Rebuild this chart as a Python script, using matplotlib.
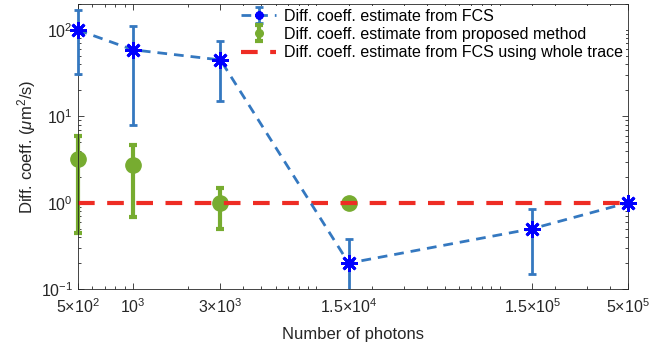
import matplotlib
matplotlib.use("Agg")
import matplotlib.pyplot as plt
import numpy as np
from matplotlib.patches import Rectangle
from matplotlib.ticker import FixedLocator, FixedFormatter, LogLocator, NullFormatter

plt.rcParams['font.family'] = ['Liberation Sans', 'DejaVu Sans']
plt.rcParams['mathtext.fontset'] = 'custom'
plt.rcParams['mathtext.rm'] = 'Liberation Sans'
plt.rcParams['mathtext.it'] = 'Liberation Sans:italic'
plt.rcParams['mathtext.bf'] = 'Liberation Sans:bold'

# Data
photons = [500, 1000, 3000, 15000, 150000, 500000]
fcs_vals = [100, 59, 45, 0.2, 0.5, 1.0]
fcs_low = [31, 8, 15, 0.05, 0.15, 1.0]
fcs_high = [172, 110, 75, 0.38, 0.84, 1.0]

prop_x = [500, 1000, 3000, 15000]
prop_vals = [3.2, 2.7, 1.0, 1.0]
prop_low = [0.45, 0.69, 0.5, 1.0]
prop_high = [5.9, 4.7, 1.5, 1.0]

whole_x = [500, 500000]
whole_vals = [1.0, 1.0]

xtick_vals = [500, 1000, 3000, 15000, 150000, 500000]
xtick_labels = [r'$5{\times}10^2$', r'$10^3$', r'$3{\times}10^3$',
                r'$1.5{\times}10^4$', r'$1.5{\times}10^5$', r'$5{\times}10^5$']

blue_line = '#3478c0'
green = '#77AC30'
red = '#ee2c24'

fig = plt.figure(figsize=(6.71, 3.5), dpi=100)
ax = fig.add_axes([0.1158, 0.174, 0.936 - 0.1158, 0.9886 - 0.174])

fcs_err = [np.array(fcs_vals) - np.array(fcs_low), np.array(fcs_high) - np.array(fcs_vals)]
prop_err = [np.array(prop_vals) - np.array(prop_low), np.array(prop_high) - np.array(prop_vals)]

asterisk = (8, 2, 0)

h1 = ax.errorbar(photons, fcs_vals, yerr=fcs_err, color=blue_line, ls=(0, (3.5, 2.5)), lw=2,
                 elinewidth=2, capsize=3, capthick=2, marker=asterisk, ms=12,
                 mec='#0000ff', mfc='#0000ff', mew=2, zorder=3,
                 label='Diff. coeff. estimate from FCS')
h2 = ax.errorbar(prop_x, prop_vals, yerr=prop_err, color=green, ls='none', lw=2,
                 elinewidth=3, capsize=3, capthick=3, marker='o', ms=11,
                 mec=green, mfc=green, zorder=2,
                 label='Diff. coeff. estimate from proposed method')
h3, = ax.plot(whole_x, whole_vals, color=red, ls=(0, (4, 3)), lw=3, zorder=2.5,
              label='Diff. coeff. estimate from FCS using whole trace')

clip_rect = Rectangle((-0.05, 0.0), 1.1, 1.2, transform=ax.transAxes,
                      facecolor='none', edgecolor='none')
for cont in (h1, h2):
    for art in cont.get_children():
        art.set_clip_path(clip_rect)
h3.set_clip_path(clip_rect)

ax.set_xscale('log')
ax.set_yscale('log')
ax.set_xlim(500, 500000)
ax.set_ylim(0.1, 200)

ax.xaxis.set_major_locator(FixedLocator(xtick_vals))
ax.xaxis.set_major_formatter(FixedFormatter(xtick_labels))
ax.xaxis.set_minor_locator(LogLocator(base=10, subs=np.arange(1, 10)))
ax.xaxis.set_minor_formatter(NullFormatter())
ax.yaxis.set_major_locator(LogLocator(base=10, numticks=10))
ax.yaxis.set_minor_locator(LogLocator(base=10, subs=np.arange(2, 10), numticks=10))
ax.yaxis.set_minor_formatter(NullFormatter())

ax.tick_params(which='both', direction='in', top=True, right=True, labelsize=11.5,
               colors='#262626', width=0.6)
ax.tick_params(axis='x', which='major', pad=6)
ax.tick_params(which='major', length=4)
ax.tick_params(which='minor', length=2.5)
for sp in ax.spines.values():
    sp.set_color('#262626')
    sp.set_linewidth(0.6)

ax.set_xlabel('Number of photons', fontsize=12, color='#262626', labelpad=8)
ax.set_ylabel(r'Diff. coeff. ($\mu$m$^2$/s)', fontsize=12, color='#262626', labelpad=2)

leg = ax.legend(handles=[h1, h2, h3], loc='upper right', fontsize=11.5, frameon=True,
                facecolor='white', edgecolor='none', framealpha=1, borderpad=0.2,
                labelspacing=0.2, handlelength=2.2, handletextpad=0.5,
                borderaxespad=0.1, markerscale=0.5)
leg.get_frame().set_linewidth(0)

fig.savefig('out.png', dpi=100)
